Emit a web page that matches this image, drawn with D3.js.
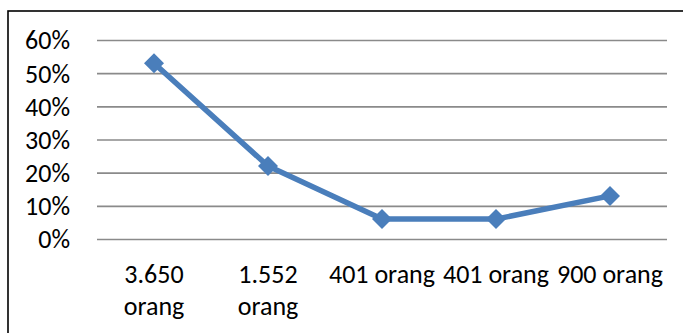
<!DOCTYPE html>
<html>
<head>
<meta charset="utf-8">
<script src="https://cdn.jsdelivr.net/npm/d3@7"></script>
<style>
  html, body { margin: 0; padding: 0; background: #fff; }
  svg { display: block; }
  text { font-family: Carlito, Calibri, Lato, "Open Sans", sans-serif; fill: #000; }
</style>
</head>
<body>
<svg id="chart" width="683" height="333"></svg>
<script>
// Share of respondents per group
const categories = ["3.650 orang", "1.552 orang", "401 orang", "401 orang", "900 orang"];
const values = [0.53, 0.22, 0.06, 0.06, 0.13];
const yTicks = [0, 0.1, 0.2, 0.3, 0.4, 0.5, 0.6];

const W = 683, H = 333;
const plot = { left: 97, right: 667, top: 40, bottom: 239 };
const blue = "#4a7ebb";
const fontSize = 26;

const svg = d3.select("#chart");

// outer frame (runs past the right and bottom edges)
svg.append("rect")
  .attr("x", 8).attr("y", 11)
  .attr("width", W + 10).attr("height", H + 10)
  .attr("fill", "none").attr("stroke", "#000").attr("stroke-width", 1.6);

const x = d3.scaleBand()
  .domain(d3.range(categories.length))
  .range([plot.left, plot.right]);

const y = d3.scaleLinear()
  .domain([0, 0.6])
  .range([plot.bottom, plot.top]);

// horizontal gridlines with percentage labels
const yAxis = d3.axisLeft(y)
  .tickValues(yTicks)
  .tickFormat(d3.format(".0%"))
  .tickSize(-(plot.right - plot.left))
  .tickPadding(27);

const gy = svg.append("g")
  .attr("transform", `translate(${plot.left},0)`)
  .call(yAxis);
gy.select(".domain").remove();
gy.selectAll(".tick line").attr("stroke", "#8a8a8a").attr("stroke-width", 1.6);
gy.selectAll(".tick text")
  .attr("font-size", fontSize)
  .attr("dy", "0.34em")
  .style("font-family", "Carlito, Calibri, Lato, sans-serif");

// category labels, wrapped to the band width
const xAxis = d3.axisBottom(x)
  .tickFormat(i => categories[i])
  .tickSize(0)
  .tickPadding(0);

const baseY = 44;
const lineGap = 32;

const gx = svg.append("g")
  .attr("transform", `translate(0,${plot.bottom})`)
  .call(xAxis);
gx.select(".domain").remove();
gx.selectAll(".tick text")
  .attr("font-size", fontSize)
  .attr("y", baseY)
  .attr("dy", 0)
  .each(function () {
    const t = d3.select(this);
    const full = t.text();
    if (this.getComputedTextLength() <= x.bandwidth()) return;
    const words = full.split(" ");
    t.text(null);
    let line = [];
    let tspan = t.append("tspan").attr("x", 0).attr("y", baseY);
    let lineNo = 0;
    words.forEach(w => {
      line.push(w);
      tspan.text(line.join(" "));
      if (tspan.node().getComputedTextLength() > x.bandwidth() && line.length > 1) {
        line.pop();
        tspan.text(line.join(" "));
        line = [w];
        lineNo++;
        tspan = t.append("tspan").attr("x", 0).attr("y", baseY + lineNo * lineGap).text(w);
      }
    });
  });

// series line
const line = d3.line()
  .x((d, i) => x(i) + x.bandwidth() / 2)
  .y(d => y(d));

svg.append("path")
  .datum(values)
  .attr("d", line)
  .attr("fill", "none")
  .attr("stroke", blue)
  .attr("stroke-width", 5.5)
  .attr("stroke-linejoin", "round");

// diamond markers
const diamond = d3.symbol().type(d3.symbolSquare).size(200);
svg.append("g")
  .selectAll("path")
  .data(values)
  .join("path")
  .attr("d", diamond)
  .attr("transform", (d, i) => `translate(${x(i) + x.bandwidth() / 2},${y(d)}) rotate(45)`)
  .attr("fill", blue);
</script>
</body>
</html>
